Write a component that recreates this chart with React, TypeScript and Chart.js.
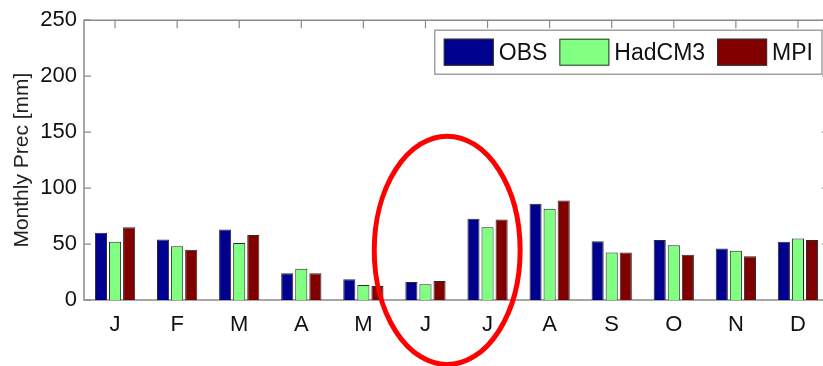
import React, { useEffect, useRef } from "react";
import { Chart, registerables } from "chart.js";

Chart.register(...registerables);

const months = ["J", "F", "M", "A", "M", "J", "J", "A", "S", "O", "N", "D"];
const obs = [60, 54, 63, 24, 18.5, 16, 72.5, 86, 52.5, 53.5, 46, 52];
const hadcm3 = [52, 48, 51, 28, 13.5, 14, 65, 81.5, 42.5, 49, 44, 55];
const mpi = [65, 45, 58, 24, 12.5, 17, 72, 89, 42.5, 40.5, 39, 53.5];
const yTicks = [0, 50, 100, 150, 200, 250];
const seriesLabels = ["OBS", "HadCM3", "MPI"];
const seriesColors = ["#00008F", "#80FF80", "#800000"];
const yTitle = "Monthly Prec [mm]";
// highlight ellipse in data units (category index, value)
const highlightCenterIndex = 5.35;
const highlightHalfWidth = 1.175;
const highlightCenterValue = 44.4;
const highlightHalfHeight = 102;

const AXIS_COLOR = "#8a8a8a";
const TEXT_COLOR = "#111111";
const FONT_FAMILY = "'Liberation Sans', Arial, sans-serif";

const boxPlugin = {
  id: "matlabBox",
  beforeDatasetsDraw(chart: any) {
    const { ctx, chartArea } = chart;
    const { left, right, top, bottom } = chartArea;
    const x = chart.scales.x;
    const y = chart.scales.y;
    ctx.save();
    ctx.strokeStyle = AXIS_COLOR;
    ctx.lineWidth = 1.5;
    ctx.beginPath();
    ctx.rect(left, top, right - left, bottom - top);
    ctx.stroke();
    ctx.lineWidth = 1.2;
    ctx.beginPath();
    for (let i = 0; i < months.length; i++) {
      const px = x.getPixelForValue(i);
      ctx.moveTo(px, top);
      ctx.lineTo(px, top + 8);
      ctx.moveTo(px, bottom);
      ctx.lineTo(px, bottom - 8);
    }
    for (const v of yTicks) {
      const py = y.getPixelForValue(v);
      ctx.moveTo(left, py);
      ctx.lineTo(left + 7, py);
      ctx.moveTo(right, py);
      ctx.lineTo(right - 7, py);
    }
    ctx.stroke();
    ctx.restore();
  },
  afterDraw(chart: any) {
    const { ctx, chartArea } = chart;
    const x = chart.scales.x;
    const y = chart.scales.y;
    ctx.save();
    // red highlight ellipse
    const cx = x.getPixelForValue(highlightCenterIndex);
    const rx = Math.abs(x.getPixelForValue(highlightCenterIndex + highlightHalfWidth) - cx);
    const cy = y.getPixelForValue(highlightCenterValue);
    const ry = Math.abs(y.getPixelForValue(highlightCenterValue + highlightHalfHeight) - cy);
    ctx.strokeStyle = "#FF0000";
    ctx.lineWidth = 5;
    ctx.beginPath();
    ctx.ellipse(cx, cy, rx, ry, 0, 0, Math.PI * 2);
    ctx.stroke();

    // legend box inside plot, top right
    ctx.font = `23px ${FONT_FAMILY}`;
    ctx.textBaseline = "middle";
    ctx.textAlign = "left";
    const swW = 50, swH = 27, pad = 9, txtGap = 5, itemGap = 12;
    const widths = chart.data.datasets.map((d: any) => ctx.measureText(d.label).width);
    let boxW = pad * 2;
    widths.forEach((w: number, i: number) => {
      boxW += swW + txtGap + w + (i < widths.length - 1 ? itemGap : 0);
    });
    const boxH = 44;
    const boxRight = chartArea.right - 7;
    const boxLeft = boxRight - boxW;
    const boxTop = chartArea.top + 10;
    ctx.fillStyle = "#ffffff";
    ctx.fillRect(boxLeft, boxTop, boxW, boxH);
    ctx.strokeStyle = AXIS_COLOR;
    ctx.lineWidth = 1.2;
    ctx.strokeRect(boxLeft, boxTop, boxW, boxH);
    let cur = boxLeft + pad;
    chart.data.datasets.forEach((d: any, i: number) => {
      const sy = boxTop + (boxH - swH) / 2;
      ctx.fillStyle = d.backgroundColor;
      ctx.fillRect(cur, sy, swW, swH);
      ctx.strokeStyle = "#333333";
      ctx.lineWidth = 1;
      ctx.strokeRect(cur + 0.5, sy + 0.5, swW - 1, swH - 1);
      ctx.fillStyle = TEXT_COLOR;
      ctx.fillText(d.label, cur + swW + txtGap, boxTop + boxH / 2 + 1);
      cur += swW + txtGap + widths[i] + itemGap;
    });
    ctx.restore();
  },
};

export default function App() {
  const canvasRef = useRef<HTMLCanvasElement | null>(null);

  useEffect(() => {
    if (!canvasRef.current) return;
    const seriesData = [obs, hadcm3, mpi];
    const chart = new Chart(canvasRef.current, {
      type: "bar",
      data: {
        labels: months,
        datasets: seriesLabels.map((label, i) => ({
          label,
          data: seriesData[i],
          backgroundColor: seriesColors[i],
          borderColor: "#2a2a2a",
          borderWidth: 1,
          categoryPercentage: 0.68,
          barPercentage: 0.86,
        })),
      },
      options: {
        responsive: false,
        animation: false,
        devicePixelRatio: 1,
        layout: { padding: { top: 20, right: 11, left: 0, bottom: 0 } },
        plugins: {
          legend: { display: false },
          tooltip: { enabled: false },
          title: { display: false },
        },
        scales: {
          x: {
            grid: { display: false, drawTicks: false },
            border: { display: false },
            ticks: {
              color: TEXT_COLOR,
              font: { family: FONT_FAMILY, size: 22 },
              padding: 12,
              maxRotation: 0,
              autoSkip: false,
            },
            afterFit(scale: any) {
              scale.height = 66;
            },
          },
          y: {
            min: 0,
            max: 250,
            grid: { display: false, drawTicks: false },
            border: { display: false },
            afterBuildTicks(scale: any) {
              scale.ticks = yTicks.map((v) => ({ value: v }));
            },
            ticks: {
              color: TEXT_COLOR,
              font: { family: FONT_FAMILY, size: 22 },
              padding: 7,
            },
            title: {
              display: true,
              text: yTitle,
              color: "#222222",
              font: { family: FONT_FAMILY, size: 21 },
              padding: { top: 10, bottom: 0 },
            },
            afterFit(scale: any) {
              scale.width = 84;
            },
          },
        },
      },
      plugins: [boxPlugin],
    });
    return () => chart.destroy();
  }, []);

  return (
    <div
      style={{
        position: "fixed",
        left: 0,
        top: 0,
        width: 823,
        height: 366,
        overflow: "hidden",
        background: "#ffffff",
      }}
    >
      <canvas ref={canvasRef} width={840} height={366} style={{ display: "block" }} />
    </div>
  );
}
